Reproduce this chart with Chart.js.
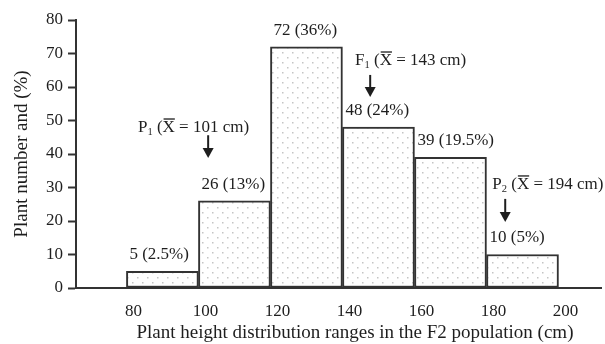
<!DOCTYPE html>
<html>
<head>
<meta charset="utf-8">
<script src="https://cdn.jsdelivr.net/npm/chart.js@4.4.1/dist/chart.umd.min.js"></script>
<style>
  html, body { margin: 0; padding: 0; background: #fff; }
</style>
</head>
<body>
<canvas id="chart" width="605" height="344"></canvas>
<script>
// histogram bins (cm) and plant counts
const binStarts = [80, 100, 120, 140, 160, 180];
const binWidth = 20;
const plantCounts = [5, 26, 72, 48, 39, 10];
const percentLabels = ['2.5%', '13%', '36%', '24%', '19.5%', '5%'];
const xTicks = [80, 100, 120, 140, 160, 180, 200];
const yTicks = [0, 10, 20, 30, 40, 50, 60, 70, 80];
const xTitle = 'Plant height distribution ranges in the F2 population (cm)';
const yTitle = 'Plant number and (%)';

// parent / F1 means
const meanGroups = ['P', 'F', 'P'];
const meanSubs = ['1', '1', '2'];
const meanValues = [101, 143, 194];
// where the notes sit, in data units: text left x, text y, arrow x, arrow top y, arrow bottom y
const noteTextX = [83.2, 143.5, 181.6];
const noteTextY = [48, 68, 31];
const arrowX = [102.7, 147.7, 185.2];
const arrowTop = [45.6, 63.6, 26.6];
const arrowBottom = [38.8, 57, 19.7];

const SERIF = '"Liberation Serif", "Times New Roman", serif';
const INK = '#333';
const TEXT = '#1e1e1e';

function dotPattern() {
    const c = document.createElement('canvas');
    c.width = 10; c.height = 10;
    const g = c.getContext('2d');
    g.fillStyle = '#fff';
    g.fillRect(0, 0, 10, 10);
    g.fillStyle = '#c4c4c4';
    g.fillRect(2, 2, 1.5, 1.5);
    g.fillRect(7, 7, 1.5, 1.5);
    return document.getElementById('chart').getContext('2d').createPattern(c, 'repeat');
}

// text with subscripts and an over-bar, drawn left to right
function drawParts(ctx, x, y, parts, size) {
    ctx.textBaseline = 'middle';
    ctx.textAlign = 'left';
    for (const p of parts) {
        const s = p.sub ? size * 0.62 : size;
        ctx.font = `${s}px ${SERIF}`;
        const w = ctx.measureText(p.t).width;
        ctx.fillText(p.t, x, p.sub ? y + size * 0.28 : y);
        if (p.bar) {
            ctx.fillRect(x + 1, y - size * 0.52, w - 1, 1.3);
        }
        x += w;
    }
}

const notesPlugin = {
    id: 'notes',
    afterDatasetsDraw(chart) {
        const { ctx, scales: { x, y } } = chart;
        ctx.save();
        ctx.fillStyle = TEXT;
        ctx.strokeStyle = TEXT;

        // value labels over each bar
        ctx.font = `17px ${SERIF}`;
        ctx.textAlign = 'left';
        ctx.textBaseline = 'bottom';
        binStarts.forEach((b, i) => {
            ctx.fillText(`${plantCounts[i]} (${percentLabels[i]})`,
                x.getPixelForValue(b) + 3, y.getPixelForValue(plantCounts[i]) - 8);
        });

        // mean notes with arrows
        meanValues.forEach((m, i) => {
            drawParts(ctx, x.getPixelForValue(noteTextX[i]), y.getPixelForValue(noteTextY[i]), [
                { t: meanGroups[i] },
                { t: meanSubs[i], sub: true },
                { t: ' (' },
                { t: 'X', bar: true },
                { t: ` = ${m} cm)` }
            ], 17);

            const ax = x.getPixelForValue(arrowX[i]);
            const t = y.getPixelForValue(arrowTop[i]);
            const bt = y.getPixelForValue(arrowBottom[i]);
            ctx.lineWidth = 2;
            ctx.beginPath();
            ctx.moveTo(ax, t);
            ctx.lineTo(ax, bt - 8);
            ctx.stroke();
            ctx.beginPath();
            ctx.moveTo(ax - 5.5, bt - 10);
            ctx.lineTo(ax + 5.5, bt - 10);
            ctx.lineTo(ax, bt);
            ctx.closePath();
            ctx.fill();
        });

        // x axis title, sitting a little right of the plot centre as in the original
        ctx.font = `19px ${SERIF}`;
        ctx.textAlign = 'center';
        ctx.textBaseline = 'middle';
        ctx.fillText(xTitle, 355, 333);
        ctx.restore();
    }
};

new Chart(document.getElementById('chart'), {
    type: 'bar',
    data: {
        datasets: [{
            data: binStarts.map((b, i) => ({ x: b + binWidth / 2, y: plantCounts[i] })),
            backgroundColor: dotPattern(),
            borderColor: INK,
            borderWidth: 2,
            borderSkipped: false,
            barPercentage: 1,
            categoryPercentage: 1
        }]
    },
    options: {
        responsive: false,
        animation: false,
        layout: { padding: { left: 0, right: 4, top: 20, bottom: 0 } },
        plugins: {
            legend: { display: false },
            tooltip: { enabled: false }
        },
        scales: {
            x: {
                type: 'linear',
                min: 66,
                max: 211.8,
                offset: false,
                afterBuildTicks: s => { s.ticks = xTicks.map(v => ({ value: v })); },
                afterFit: s => { s.height = 56; },
                grid: { display: false },
                border: { display: true, color: INK, width: 2 },
                ticks: {
                    color: TEXT,
                    font: { family: SERIF, size: 17 },
                    padding: 5,
                    labelOffset: 7,
                    maxRotation: 0
                }
            },
            y: {
                min: 0,
                max: 80,
                afterBuildTicks: s => { s.ticks = yTicks.map(v => ({ value: v })); },
                afterFit: s => { s.width = 76; },
                grid: {
                    display: true,
                    drawOnChartArea: false,
                    drawTicks: true,
                    tickLength: 8,
                    tickWidth: 2,
                    color: INK
                },
                border: { display: true, color: INK, width: 2 },
                ticks: {
                    color: TEXT,
                    font: { family: SERIF, size: 17 },
                    padding: 5
                },
                title: {
                    display: true,
                    text: yTitle,
                    color: TEXT,
                    font: { family: SERIF, size: 19 },
                    padding: { top: 11, bottom: 0 }
                }
            }
        }
    },
    plugins: [notesPlugin]
});
</script>
</body>
</html>
